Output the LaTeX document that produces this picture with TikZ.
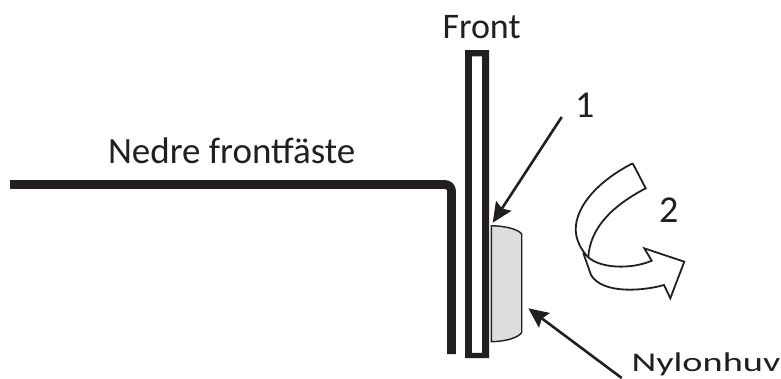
\documentclass[tikz,border=0pt]{standalone}
\usepackage{fontspec}
\setmainfont{Carlito}
\usetikzlibrary{arrows.meta}
\definecolor{ink}{HTML}{231F20}
\definecolor{capfill}{HTML}{DCDDDE}
\tikzset{
  lbl/.style={anchor=base west,inner sep=0pt,outer sep=0pt,text=ink,font=\fontsize{#1}{#1}\selectfont},
  pointer/.style={draw=ink,line width=2.6pt,-{Stealth[length=20pt,width=18pt,inset=3pt]}},
  bracket/.style={draw=ink,line width=8.8pt,line join=round},
  ribbon/.style={draw=ink,line width=1.8pt,line join=miter}
}
\begin{document}
\begin{tikzpicture}[x=1pt,y=-1pt]
\useasboundingbox (0,0) rectangle (781,378);
\clip (0,0) rectangle (781,378);
\fill[white] (0,0) rectangle (781,378);
% bracket
\draw[bracket] (10,184.5) -- (445,184.5) arc[start angle=-90,end angle=0,radius=6.5] -- (451.5,354);
% front panel
\fill[ink,even odd rule] (465,50) rectangle (489,358) (471.8,56.3) rectangle (482,352.8);
% nylon cap
\draw[draw=ink,line width=1.4pt,fill=capfill] (491.3,225.7) .. controls (505,226) and (518,229) .. (521.7,234) -- (521.7,332.5) .. controls (518,338) and (505,341.5) .. (491.3,341.7) -- cycle;
% ribbon arrow
\draw[ribbon,fill=white] (632.7,163.3) .. controls (600,180) and (575.5,205) .. (575.7,230)
  .. controls (576,240) and (581,250) .. (588.3,257.3)
  .. controls (600,268) and (630,270) .. (651.7,260.7)
  -- (644.3,248.3) -- (684.3,261.7) -- (670.3,298.3) -- (664,285)
  .. controls (645,290.5) and (603,295) .. (591,275)
  -- (583.3,253);
\draw[ribbon,line join=miter] (588.3,257.3) .. controls (590,228) and (612,206) .. (645.7,188.3) -- (632.7,163.3);
% labels
\node[lbl=36] (front) at (442.5,38) {Front};
\node[lbl=37] (nedre) at (108,163.5) {Nedre frontfäste};
\node[lbl=38] (one) at (575,117) {1};
\node[lbl=38] (two) at (659,222) {2};
\node[lbl=27,xscale=1.42] (nylon) at (631.5,371.5) {Nylonhuv};
% pointers
\coordinate (p1s) at (561.7,117);
\coordinate (p1e) at (492.7,222.7);
\coordinate (p2s) at (621.7,378);
\coordinate (p2e) at (528.3,308.3);
\draw[pointer] (p1s) -- (p1e);
\draw[pointer] (p2s) -- (p2e);
\end{tikzpicture}
\end{document}
